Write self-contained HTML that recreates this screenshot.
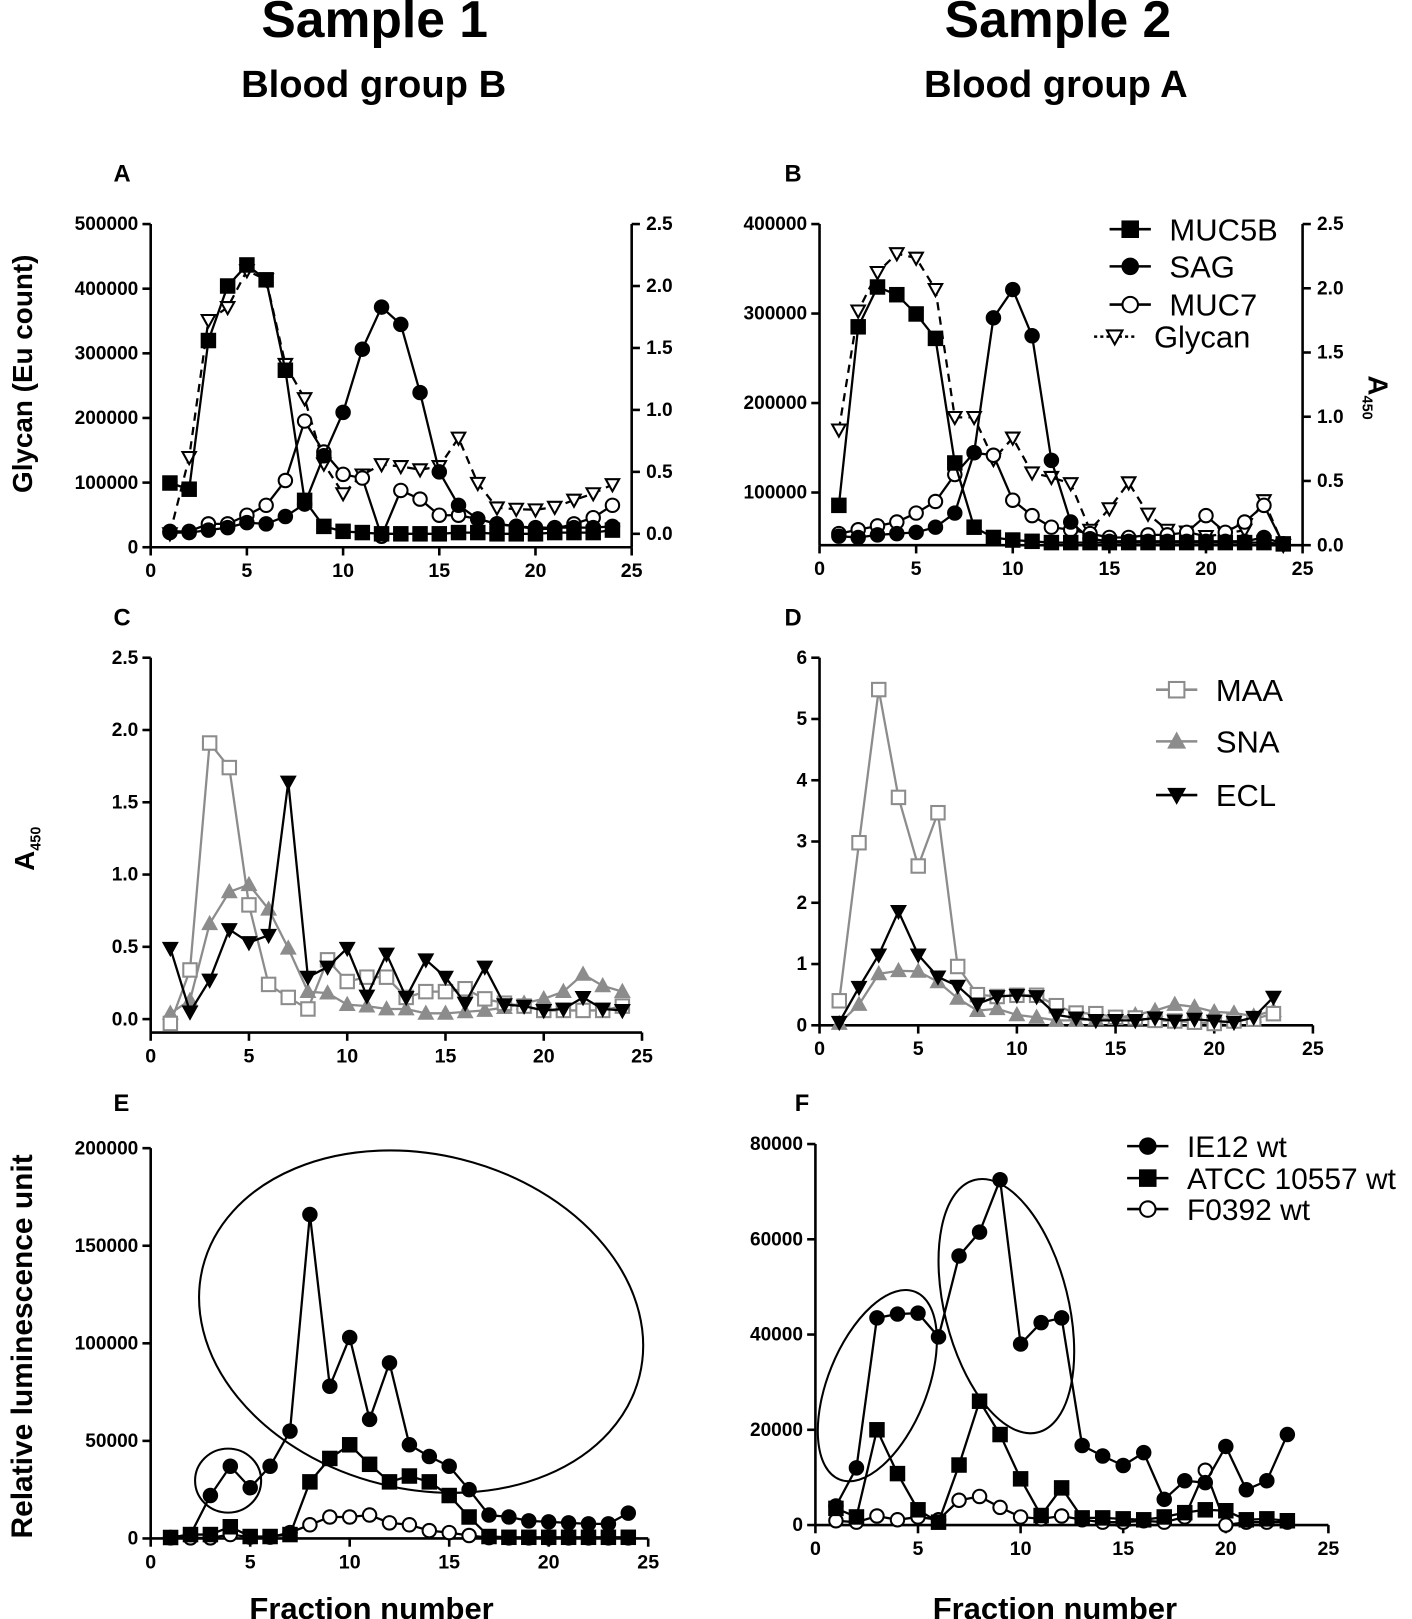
<!DOCTYPE html>
<html><head><meta charset="utf-8"><style>
html,body{margin:0;padding:0;background:#fff;}
svg{display:block;font-family:"Liberation Sans",Arial,sans-serif;}
</style></head><body>
<svg id="fig" width="1412" height="1619" viewBox="0 0 1368 1568" preserveAspectRatio="none" xmlns="http://www.w3.org/2000/svg">
<text x="363" y="36" font-size="50" font-weight="bold" text-anchor="middle">Sample 1</text>
<text x="362" y="94" font-size="37" font-weight="bold" text-anchor="middle">Blood group B</text>
<text x="1025" y="36" font-size="50" font-weight="bold" text-anchor="middle">Sample 2</text>
<text x="1023" y="94" font-size="37" font-weight="bold" text-anchor="middle">Blood group A</text>
<text x="110" y="176" font-size="23" font-weight="bold">A</text>
<text x="760" y="176" font-size="23" font-weight="bold">B</text>
<text x="110" y="606" font-size="23" font-weight="bold">C</text>
<text x="760" y="606" font-size="23" font-weight="bold">D</text>
<text x="110" y="1076" font-size="23" font-weight="bold">E</text>
<text x="770" y="1076" font-size="23" font-weight="bold">F</text>
<text transform="translate(31,362) rotate(-90)" font-size="27" font-weight="bold" text-anchor="middle">Glycan (Eu count)</text>
<text transform="translate(1326,385) rotate(90)" font-size="27" font-weight="bold" text-anchor="middle">A<tspan font-size="14" dy="6">450</tspan></text>
<text transform="translate(33,822) rotate(-90)" font-size="27" font-weight="bold" text-anchor="middle">A<tspan font-size="14" dy="6">450</tspan></text>
<text transform="translate(31,1304) rotate(-90)" font-size="29" font-weight="bold" text-anchor="middle">Relative luminescence unit</text>
<text x="360" y="1568" font-size="30" font-weight="bold" text-anchor="middle">Fraction number</text>
<text x="1022" y="1568" font-size="30" font-weight="bold" text-anchor="middle">Fraction number</text>
<g id="plots"></g>
</svg>
<script>
// Panel A (A450 right axis for proteins, glycan on left axis)
const fractionsA = [1,2,3,4,5,6,7,8,9,10,11,12,13,14,15,16,17,18,19,20,21,22,23,24];
const muc5bA = [0.41,0.36,1.56,2.0,2.17,2.05,1.32,0.27,0.06,0.02,0.01,0.0,0.0,0.0,0.0,0.01,0.01,0.0,0.0,0.0,0.01,0.01,0.01,0.03];
const sagA = [0.01,0.01,0.03,0.05,0.09,0.08,0.14,0.24,0.63,0.98,1.49,1.83,1.69,1.14,0.5,0.23,0.12,0.08,0.06,0.05,0.05,0.05,0.05,0.06];
const muc7A = [0.02,0.02,0.08,0.08,0.15,0.23,0.43,0.91,0.66,0.48,0.45,-0.02,0.35,0.28,0.15,0.15,0.12,0.08,0.06,0.04,0.04,0.08,0.13,0.23];
const glycanA = [21000,139000,351000,371000,428000,414000,283000,230000,129000,83000,112000,128000,125000,120000,125000,169000,99000,61000,59000,58000,62000,73000,83000,97000];
// Panel B
const fractionsB = [1,2,3,4,5,6,7,8,9,10,11,12,13,14,15,16,17,18,19,20,21,22,23,24];
const muc5bB = [0.31,1.70,2.01,1.95,1.80,1.61,0.64,0.14,0.06,0.04,0.03,0.02,0.02,0.02,0.02,0.02,0.02,0.02,0.02,0.02,0.02,0.02,0.02,0.01];
const sagB = [0.07,0.06,0.08,0.09,0.1,0.14,0.25,0.72,1.77,1.99,1.63,0.66,0.18,0.05,0.03,0.03,0.03,0.03,0.03,0.03,0.03,0.03,0.06,0.01];
const muc7B = [0.09,0.12,0.15,0.18,0.25,0.34,0.55,0.72,0.70,0.35,0.23,0.14,0.12,0.09,0.06,0.06,0.08,0.08,0.1,0.23,0.1,0.18,0.31,0.01];
const glycanB = [170000,303000,346000,367000,362000,327000,184000,184000,137000,161000,122000,117000,110000,58000,82000,111000,76000,58000,56000,51000,54000,58000,91000,41000];
// Panel C
const fractionsC = [1,2,3,4,5,6,7,8,9,10,11,12,13,14,15,16,17,18,19,20,21,22,23,24];
const maaC = [-0.03,0.34,1.91,1.74,0.79,0.24,0.15,0.07,0.41,0.26,0.29,0.29,0.15,0.19,0.19,0.21,0.14,0.11,0.09,0.06,0.06,0.06,0.06,0.09];
const snaC = [0.04,0.13,0.66,0.88,0.93,0.76,0.49,0.19,0.18,0.1,0.09,0.07,0.07,0.04,0.04,0.05,0.06,0.08,0.11,0.14,0.19,0.31,0.23,0.19];
const eclC = [0.49,0.05,0.27,0.62,0.53,0.58,1.64,0.29,0.36,0.49,0.16,0.45,0.15,0.41,0.29,0.11,0.36,0.1,0.09,0.06,0.07,0.15,0.07,0.06];
// Panel D
const fractionsD = [1,2,3,4,5,6,7,8,9,10,11,12,13,14,15,16,17,18,19,20,21,22,23];
const maaD = [0.4,2.98,5.48,3.72,2.6,3.47,0.96,0.5,0.47,0.49,0.49,0.32,0.2,0.19,0.13,0.12,0.08,0.07,0.05,0.03,0.07,0.1,0.19];
const snaD = [0.03,0.34,0.84,0.89,0.88,0.71,0.44,0.24,0.27,0.17,0.13,0.08,0.08,0.1,0.12,0.17,0.24,0.34,0.3,0.22,0.2,0.15,0.24];
const eclD = [0.05,0.62,1.15,1.86,1.15,0.79,0.64,0.35,0.47,0.49,0.47,0.17,0.12,0.08,0.08,0.08,0.12,0.07,0.1,0.07,0.05,0.13,0.46];
// Panel E
const fractionsE = [1,2,3,4,5,6,7,8,9,10,11,12,13,14,15,16,17,18,19,20,21,22,23,24];
const ie12E = [500,2000,22000,37000,26000,37000,55000,166000,78000,103000,61000,90000,48000,42000,37000,25000,12000,11000,9000,8500,8000,7500,7500,13000];
const atccE = [500,2000,2000,6000,1000,1000,2000,29000,41000,48000,38000,29000,32000,29000,22000,11000,1000,600,600,600,600,600,600,600];
const f0392E = [300,300,300,2000,700,700,3000,7000,11000,11000,12000,8000,7000,4000,3000,1500,400,300,300,300,300,300,300,300];
// Panel F
const fractionsF = [1,2,3,4,5,6,7,8,9,10,11,12,13,14,15,16,17,18,19,20,21,22,23];
const ie12F = [4000,12000,43500,44300,44500,39500,56500,61500,72500,38000,42500,43500,16700,14500,12500,15200,5400,9300,8900,16500,7400,9300,19000];
const atccF = [3500,1700,20000,10800,3200,600,12600,26000,19000,9700,2000,7800,1500,1500,1300,1100,1700,2600,3200,3000,1100,1300,900];
const f0392F = [900,600,1900,1100,1700,1100,5200,6000,3700,1700,1300,1900,1100,600,600,900,600,1700,11500,0,600,600,600];
// Tick labels
const xTicks = [0,5,10,15,20,25];
const ticksALeft = [0,100000,200000,300000,400000,500000];
const ticksRight = [0.0,0.5,1.0,1.5,2.0,2.5];
const ticksBLeft = [100000,200000,300000,400000];
const ticksC = [0.0,0.5,1.0,1.5,2.0,2.5];
const ticksD = [0,1,2,3,4,5,6];
const ticksE = [0,50000,100000,150000,200000];
const ticksF = [0,20000,40000,60000,80000];

const NS = "http://www.w3.org/2000/svg";
const root = document.getElementById('plots');
function mk(tag, attrs, parent){const e=document.createElementNS(NS,tag);for(const k in attrs)e.setAttribute(k,attrs[k]);(parent||root).appendChild(e);return e;}
function lin(d0,d1,r0,r1){return v=>r0+(v-d0)*(r1-r0)/(d1-d0);}

function xAxis(name,sx,y,x0,x1){
  const g=mk('g',{});
  
  
  mk('line',{x1:x0,y1:y,x2:x1,y2:y,stroke:'#000','stroke-width':2.5},g);
  xTicks.forEach(t=>{
    const x=sx(t);
    mk('line',{x1:x,y1:y,x2:x,y2:y+8,stroke:'#000','stroke-width':2.5},g);
    const tx=mk('text',{x:x,y:y+29,'font-size':19,'font-weight':'bold','text-anchor':'middle'},g);
    tx.textContent=t;
  });
}
function yAxis(name,sy,x,ticks,y0,y1,right,dec){
  const g=mk('g',{});
  
  
  mk('line',{x1:x,y1:y0,x2:x,y2:y1,stroke:'#000','stroke-width':2.5},g);
  ticks.forEach(t=>{
    const y=sy(t);
    mk('line',{x1:x,y1:y,x2:right?x+8:x-8,y2:y,stroke:'#000','stroke-width':2.5},g);
    const tx=mk('text',{x:right?x+14:x-12,y:y+6,'font-size':18.5,'font-weight':'bold','text-anchor':right?'start':'end'},g);
    tx.textContent=dec?t.toFixed(1):t;
  });
}
function marker(g,type,x,y,color,r){
  r=r||6.5;
  const fill=type.startsWith('open')?'#fff':color;
  const sw=2;
  if(type.endsWith('square')) mk('rect',{x:x-r,y:y-r,width:2*r,height:2*r,fill:fill,stroke:color,'stroke-width':sw},g);
  else if(type.endsWith('circle')) mk('circle',{cx:x,cy:y,r:r,fill:fill,stroke:color,'stroke-width':sw},g);
  else if(type.endsWith('tridown')) mk('polygon',{points:`${x-r},${y-r*0.8} ${x+r},${y-r*0.8} ${x},${y+r}`,fill:fill,stroke:color,'stroke-width':sw},g);
  else if(type.endsWith('triup')) mk('polygon',{points:`${x-r},${y+r*0.8} ${x+r},${y+r*0.8} ${x},${y-r}`,fill:fill,stroke:color,'stroke-width':sw},g);
}
function series(name,xs,ys,sx,sy,type,color,dash){
  const g=mk('g',{});
  
  
  const pts=xs.map((f,i)=>sx(f)+','+sy(ys[i])).join(' ');
  const ln=mk('polyline',{points:pts,fill:'none',stroke:color,'stroke-width':2.2});
  g.appendChild(ln);
  if(dash) ln.setAttribute('stroke-dasharray','8,6');
  xs.forEach((f,i)=>{marker(g,type,sx(f),sy(ys[i]),color);});
}
function legend(name,x,y,label,type,color,fs,dash){
  const g=mk('g',{});
  
  
  const l=mk('line',{x1:x,y1:y,x2:x+40,y2:y,stroke:color,'stroke-width':2.5},g);
  if(dash) l.setAttribute('stroke-dasharray','3,3');
  marker(g,type,x+20,y,color,7.5);
  const t=mk('text',{x:x+58,y:y+fs*0.36,'font-size':fs},g);
  t.textContent=label;
}
const GREY='#8c8c8c';

// Panel A
{
  const sx=lin(0,25,146,612), syL=lin(0,500000,530,217), syR=lin(0,2.5,517,217);
  xAxis('x-axis-a',sx,530,146,612);
  yAxis('y-axis-a-left',syL,146,ticksALeft,217,530,false,false);
  yAxis('y-axis-a-right',syR,612,ticksRight,217,530,true,true);
  series('series-a-glycan',fractionsA,glycanA,sx,syL,'opentridown','#000',true);
  series('series-a-muc7',fractionsA,muc7A,sx,syR,'opencircle','#000');
  series('series-a-sag',fractionsA,sagA,sx,syR,'circle','#000');
  series('series-a-muc5b',fractionsA,muc5bA,sx,syR,'square','#000');
}
// Panel B
{
  const sx=lin(0,25,794,1262), syL=lin(100000,400000,477,217), syR=lin(0,2.5,528,217);
  xAxis('x-axis-b',sx,528,794,1262);
  yAxis('y-axis-b-left',syL,794,ticksBLeft,217,528,false,false);
  yAxis('y-axis-b-right',syR,1262,ticksRight,217,528,true,true);
  series('series-b-glycan',fractionsB,glycanB,sx,syL,'opentridown','#000',true);
  series('series-b-muc7',fractionsB,muc7B,sx,syR,'opencircle','#000');
  series('series-b-sag',fractionsB,sagB,sx,syR,'circle','#000');
  series('series-b-muc5b',fractionsB,muc5bB,sx,syR,'square','#000');
  legend('legend-muc5b',1075,222,'MUC5B','square','#000',30);
  legend('legend-sag',1075,258,'SAG','circle','#000',30);
  legend('legend-muc7',1075,295,'MUC7','opencircle','#000',30);
  legend('legend-glycan',1060,326,'Glycan','opentridown','#000',30,true);
}
// Panel C
{
  const sx=lin(0,25,146,622), sy=lin(0,2.5,987,637);
  xAxis('x-axis-c',sx,1000,146,622);
  yAxis('y-axis-c',sy,146,ticksC,637,1000,false,true);
  series('series-c-sna',fractionsC,snaC,sx,sy,'triup',GREY);
  series('series-c-maa',fractionsC,maaC,sx,sy,'opensquare',GREY);
  series('series-c-ecl',fractionsC,eclC,sx,sy,'tridown','#000');
}
// Panel D
{
  const sx=lin(0,25,794,1272), sy=lin(0,6,993,637);
  xAxis('x-axis-d',sx,993,794,1272);
  yAxis('y-axis-d',sy,794,ticksD,637,993,false,false);
  series('series-d-sna',fractionsD,snaD,sx,sy,'triup',GREY);
  series('series-d-maa',fractionsD,maaD,sx,sy,'opensquare',GREY);
  series('series-d-ecl',fractionsD,eclD,sx,sy,'tridown','#000');
  legend('legend-maa',1120,668,'MAA','opensquare',GREY,30);
  legend('legend-sna',1120,718,'SNA','triup',GREY,30);
  legend('legend-ecl',1120,770,'ECL','tridown','#000',30);
}
// Panel E
{
  const sx=lin(0,25,146,628), sy=lin(0,200000,1490,1112);
  xAxis('x-axis-e',sx,1490,146,628);
  yAxis('y-axis-e',sy,146,ticksE,1112,1490,false,false);
  series('series-e-f0392',fractionsE,f0392E,sx,sy,'opencircle','#000');
  series('series-e-atcc',fractionsE,atccE,sx,sy,'square','#000');
  series('series-e-ie12',fractionsE,ie12E,sx,sy,'circle','#000');
  const e1=mk('ellipse',{cx:221,cy:1434,rx:32,ry:31,fill:'none',stroke:'#000','stroke-width':2});
  
  
  const e2=mk('ellipse',{cx:408,cy:1280,rx:218,ry:162,fill:'none',stroke:'#000','stroke-width':2,transform:'rotate(14 408 1280)'});
  
  
}
// Panel F
{
  const sx=lin(0,25,790,1287), sy=lin(0,80000,1477,1108);
  xAxis('x-axis-f',sx,1477,790,1287);
  yAxis('y-axis-f',sy,790,ticksF,1108,1477,false,false);
  series('series-f-f0392',fractionsF,f0392F,sx,sy,'opencircle','#000');
  series('series-f-atcc',fractionsF,atccF,sx,sy,'square','#000');
  series('series-f-ie12',fractionsF,ie12F,sx,sy,'circle','#000');
  const e1=mk('ellipse',{cx:850,cy:1342,rx:48,ry:98,fill:'none',stroke:'#000','stroke-width':2,transform:'rotate(22 850 1342)'});
  
  
  const e2=mk('ellipse',{cx:975,cy:1265,rx:60,ry:126,fill:'none',stroke:'#000','stroke-width':2,transform:'rotate(-14 975 1265)'});
  
  
  legend('legend-ie12',1092,1110,'IE12 wt','circle','#000',29);
  legend('legend-atcc',1092,1141,'ATCC 10557 wt','square','#000',29);
  legend('legend-f0392',1092,1171,'F0392 wt','opencircle','#000',29);
}
</script>
</body></html>
